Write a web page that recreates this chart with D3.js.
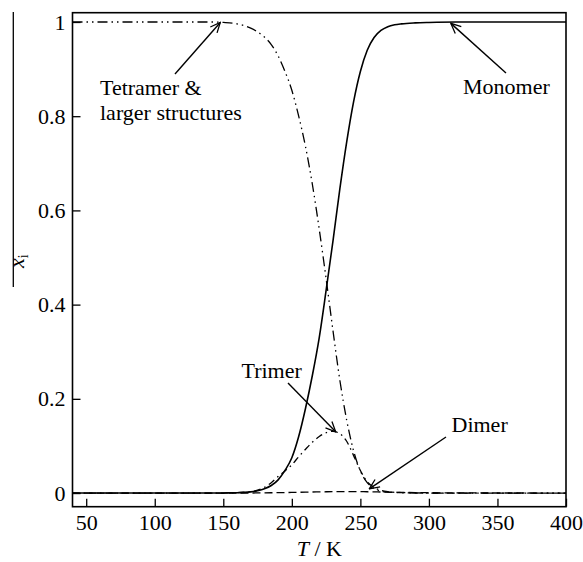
<!DOCTYPE html>
<html>
<head>
<meta charset="utf-8">
<script src="https://cdn.jsdelivr.net/npm/d3@7"></script>
<style>
  html, body { margin: 0; padding: 0; background: #fff; }
  svg { display: block; }
  text { font-family: "Liberation Serif", "Times New Roman", serif; fill: #000; }
</style>
</head>
<body>
<svg id="chart" width="583" height="562"></svg>
<script>
// Temperature grid (K) and mole fractions of each species
const temperature = [40, 60, 80, 100, 120, 140, 150, 160, 170, 175, 180, 185, 190, 195, 200, 205, 210, 215, 220, 225, 230, 235, 240, 245, 250, 255, 260, 265, 270, 275, 280, 290, 300, 320, 350, 400];
const monomer  = [0, 0, 0, 0, 0, 0, 0.0002, 0.0006, 0.0025, 0.005, 0.009, 0.016, 0.028, 0.048, 0.075, 0.12, 0.18, 0.25, 0.33, 0.43, 0.535, 0.645, 0.745, 0.83, 0.895, 0.94, 0.967, 0.982, 0.99, 0.994, 0.996, 0.998, 0.999, 1, 1, 1];
const dimer    = [0, 0, 0, 0, 0, 0, 0, 0, 0.0001, 0.0002, 0.0004, 0.0006, 0.0008, 0.001, 0.0013, 0.0016, 0.0019, 0.0022, 0.0025, 0.0027, 0.0029, 0.003, 0.003, 0.003, 0.0029, 0.0027, 0.0025, 0.0022, 0.002, 0.0017, 0.0015, 0.001, 0.0007, 0.0003, 0.0001, 0];
const trimer   = [0, 0, 0, 0, 0, 0, 0, 0.001, 0.003, 0.006, 0.012, 0.022, 0.035, 0.047, 0.06, 0.077, 0.093, 0.108, 0.12, 0.128, 0.131, 0.126, 0.11, 0.08, 0.048, 0.024, 0.012, 0.006, 0.003, 0.0015, 0.001, 0.0003, 0, 0, 0, 0];
const tetramer = [1, 1, 1, 1, 1, 1, 0.999, 0.996, 0.987, 0.979, 0.968, 0.952, 0.928, 0.895, 0.855, 0.8, 0.735, 0.655, 0.56, 0.455, 0.345, 0.24, 0.155, 0.09, 0.047, 0.022, 0.01, 0.004, 0.002, 0.001, 0.0005, 0, 0, 0, 0, 0];

const xTicks = [50, 100, 150, 200, 250, 300, 350, 400];
const yTicks = [0, 0.2, 0.4, 0.6, 0.8, 1];

const series = [
  { name: "Monomer",  values: monomer,  dash: null,               width: 1.6 },
  { name: "Dimer",    values: dimer,    dash: "8,4",              width: 1.3 },
  { name: "Trimer",   values: trimer,   dash: "7,4,1.5,4",        width: 1.3 },
  { name: "Tetramer", values: tetramer, dash: "10,4,1.5,4,1.5,4", width: 1.3 }
];

const serif = "'Liberation Serif', 'Times New Roman', serif";
const svg = d3.select("#chart");
const plotLeft = 72.5, plotRight = 566, plotTop = 12.7, plotBottom = 506.7;

const x = d3.scaleLinear().domain([40, 400]).range([plotLeft, plotRight]);
const y = d3.scaleLinear().domain([-0.029, 1.0197]).range([plotBottom, plotTop]);

svg.append("rect").attr("width", 583).attr("height", 562).attr("fill", "#fff");

const defs = svg.append("defs");
defs.append("clipPath").attr("id", "plot-clip")
  .append("rect").attr("x", plotLeft).attr("y", plotTop)
  .attr("width", plotRight - plotLeft).attr("height", plotBottom - plotTop);

// curves
const plot = svg.append("g").attr("clip-path", "url(#plot-clip)");
series.forEach(s => {
  const line = d3.line()
    .x((d, i) => x(temperature[i]))
    .y(d => y(d))
    .curve(d3.curveMonotoneX);
  plot.append("path")
    .datum(s.values)
    .attr("d", line)
    .attr("fill", "none")
    .attr("stroke", "#000")
    .attr("stroke-width", s.width)
    .attr("stroke-dasharray", s.dash);
});

// axes with inward ticks
const xAxis = d3.axisBottom(x).tickValues(xTicks).tickSize(-8).tickPadding(20).tickFormat(d3.format("d"));
const gx = svg.append("g").attr("transform", `translate(0,${plotBottom})`).call(xAxis);
const yAxis = d3.axisLeft(y).tickValues(yTicks).tickSize(-8).tickPadding(7)
  .tickFormat(d => (d === 0 || d === 1) ? d3.format("d")(d) : d3.format(".1f")(d));
const gy = svg.append("g").attr("transform", `translate(${plotLeft},0)`).call(yAxis);
[gx, gy].forEach(g => {
  g.select(".domain").remove();
  g.selectAll(".tick line").attr("stroke", "#000").attr("stroke-width", 1.3);
  g.selectAll(".tick text").attr("font-family", serif).attr("font-size", 22).attr("fill", "#000");
});
gx.selectAll(".tick text").attr("dy", "0.17em");

// frame
svg.append("rect")
  .attr("x", plotLeft).attr("y", plotTop)
  .attr("width", plotRight - plotLeft).attr("height", plotBottom - plotTop)
  .attr("fill", "none").attr("stroke", "#000").attr("stroke-width", 1.6);

// axis titles
const xt = svg.append("text").attr("x", (plotLeft + plotRight) / 2).attr("y", 556)
  .attr("text-anchor", "middle").attr("font-family", serif).attr("font-size", 22);
xt.append("tspan").attr("font-style", "italic").text("T");
xt.append("tspan").text(" / K");

svg.append("line").attr("x1", 13.3).attr("x2", 13.3).attr("y1", 12).attr("y2", 287)
  .attr("stroke", "#000").attr("stroke-width", 1.3);
const yt = svg.append("text").attr("transform", "translate(24,268) rotate(-90)")
  .attr("text-anchor", "start").attr("font-family", serif).attr("font-size", 22);
yt.append("tspan").attr("font-style", "italic").text("x");
yt.append("tspan").attr("dy", "0.3em").attr("font-size", 14).text("i");

// annotations with arrows
defs.append("marker")
  .attr("id", "arrowhead").attr("viewBox", "0 0 12 12").attr("refX", 11).attr("refY", 6)
  .attr("markerWidth", 12).attr("markerHeight", 12).attr("markerUnits", "userSpaceOnUse")
  .attr("orient", "auto")
  .append("path").attr("d", "M1,1.5 L11,6 L1,10.5").attr("fill", "none").attr("stroke", "#000").attr("stroke-width", 1.3);

const notes = [
  { lines: ["Tetramer &", "larger structures"], tx: 100, ty: 95, from: [175, 74], to: [147.8, 0.999] },
  { lines: ["Monomer"], tx: 463, ty: 94, from: [506, 73], to: [316, 0.997] },
  { lines: ["Trimer"], tx: 241.5, ty: 378, from: [288, 383], to: [232, 0.13] },
  { lines: ["Dimer"], tx: 451.5, ty: 432, from: [446, 437], to: [256.5, 0.009] }
];
notes.forEach(n => {
  const t = svg.append("text").attr("x", n.tx).attr("y", n.ty)
    .attr("font-family", serif).attr("font-size", 22);
  n.lines.forEach((l, i) => t.append("tspan").attr("x", n.tx).attr("dy", i === 0 ? 0 : 25).text(l));
  svg.append("line")
    .attr("x1", n.from[0]).attr("y1", n.from[1])
    .attr("x2", x(n.to[0])).attr("y2", y(n.to[1]))
    .attr("stroke", "#000").attr("stroke-width", 1.4)
    .attr("marker-end", "url(#arrowhead)");
});
</script>
</body>
</html>
